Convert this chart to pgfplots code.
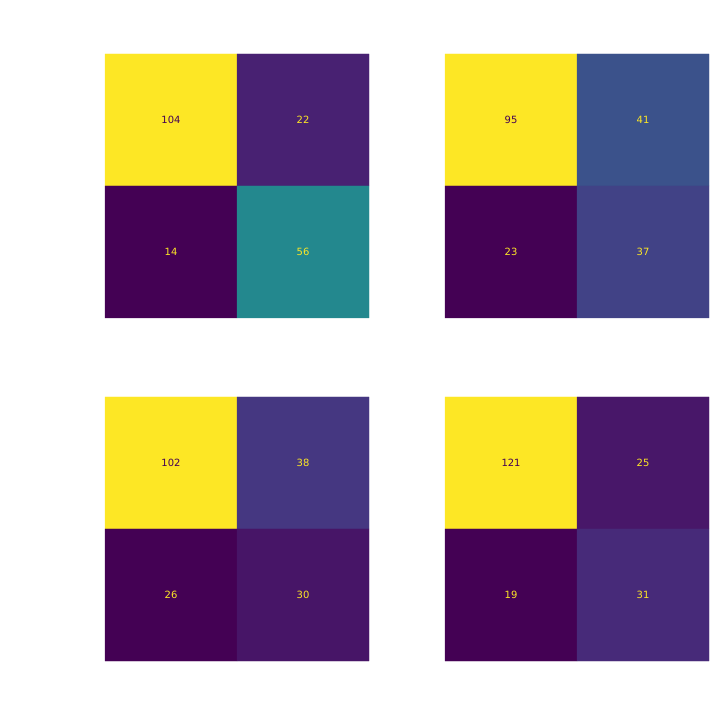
\documentclass[border=0pt]{standalone}
\usepackage{pgfplots}
\pgfplotsset{compat=1.18}
\usepackage{fontspec}
\setmainfont{DejaVu Sans}
\definecolor{vlow}{HTML}{440154}
\definecolor{vhigh}{HTML}{FDE725}
\pgfplotsset{
  cm/.style={
    hide axis, scale only axis, width=264bp, height=264bp,
    xmin=-0.5, xmax=1.5, ymin=-0.5, ymax=1.5, y dir=reverse,
    colormap/viridis, anchor=south west, clip=false
  },
  cell/.style={matrix plot*, mesh/cols=2, point meta=explicit, draw=none},
  lab/.style={draw=none, mark=none, nodes near coords, point meta=explicit symbolic,
    nodes near coords align=center,
    nodes near coords style={anchor=center, text=#1, font=\fontsize{10}{12}\selectfont}}
}
\begin{document}
\begin{tikzpicture}[x=1bp,y=1bp]
\path[use as bounding box] (0,0) rectangle (720,720);
% panel 1
\begin{axis}[cm, at={(105bp,402bp)}]
\addplot[cell] table[meta=c] {
x y c
0 0 104
1 0 22

0 1 14
1 1 56
};
\addplot[lab=vlow] table[meta=c] {
x y c
0 0 104
};
\addplot[lab=vhigh] table[meta=c] {
x y c
1 0 22
0 1 14
1 1 56
};
\end{axis}
% panel 2
\begin{axis}[cm, at={(445bp,402bp)}]
\addplot[cell] table[meta=c] {
x y c
0 0 95
1 0 41

0 1 23
1 1 37
};
\addplot[lab=vlow] table[meta=c] {
x y c
0 0 95
};
\addplot[lab=vhigh] table[meta=c] {
x y c
1 0 41
0 1 23
1 1 37
};
\end{axis}
% panel 3
\begin{axis}[cm, at={(105bp,59bp)}]
\addplot[cell] table[meta=c] {
x y c
0 0 102
1 0 38

0 1 26
1 1 30
};
\addplot[lab=vlow] table[meta=c] {
x y c
0 0 102
};
\addplot[lab=vhigh] table[meta=c] {
x y c
1 0 38
0 1 26
1 1 30
};
\end{axis}
% panel 4
\begin{axis}[cm, at={(445bp,59bp)}]
\addplot[cell] table[meta=c] {
x y c
0 0 121
1 0 25

0 1 19
1 1 31
};
\addplot[lab=vlow] table[meta=c] {
x y c
0 0 121
};
\addplot[lab=vhigh] table[meta=c] {
x y c
1 0 25
0 1 19
1 1 31
};
\end{axis}
\end{tikzpicture}
\end{document}
